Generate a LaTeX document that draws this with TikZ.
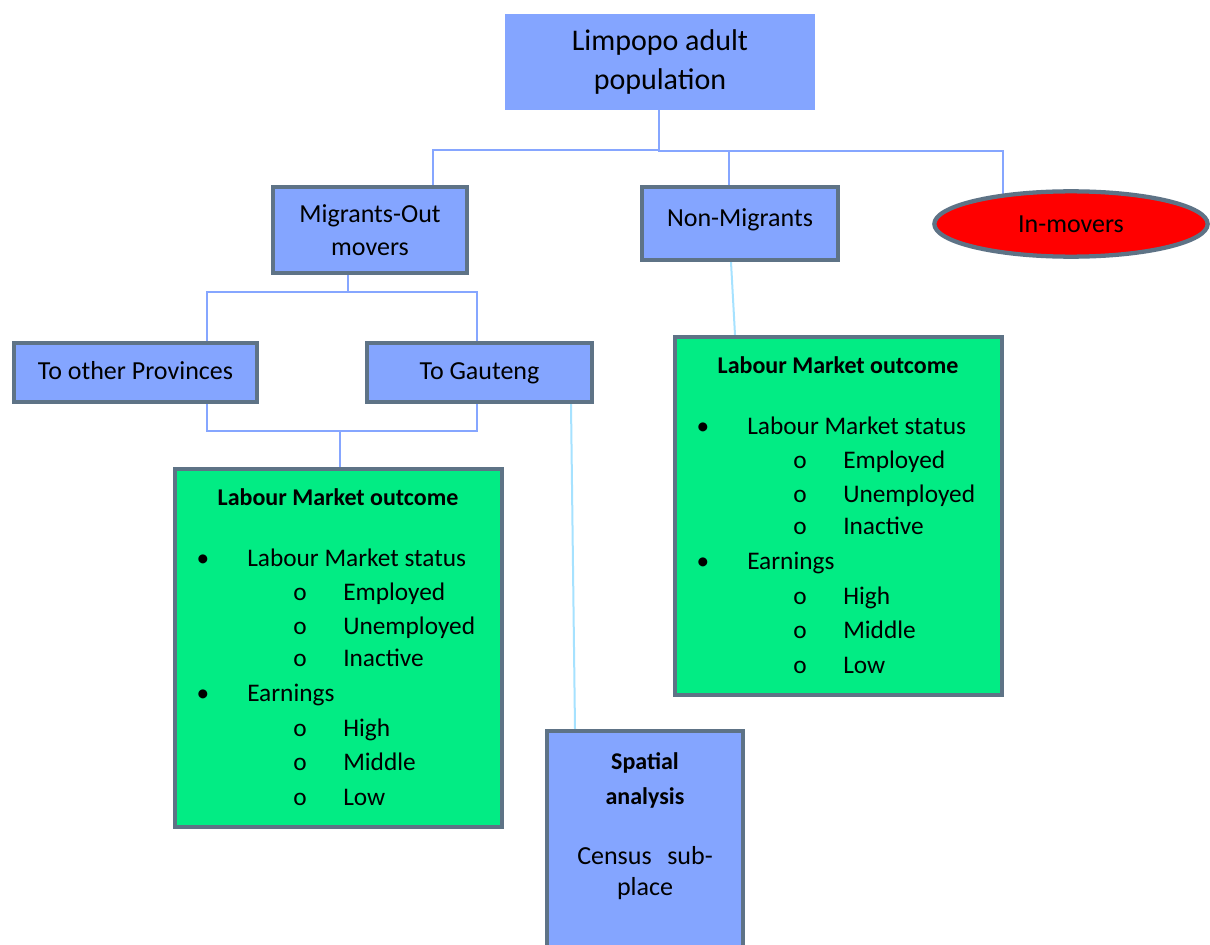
\documentclass[tikz,border=0pt]{standalone}
\usepackage{fontspec}
\setmainfont{Carlito}
\usetikzlibrary{fit,shapes.geometric,backgrounds}
\definecolor{boxblue}{HTML}{84A5FF}
\definecolor{edgegray}{HTML}{5E7386}
\definecolor{boxgreen}{HTML}{02EC84}
\definecolor{connblue}{HTML}{86A6FF}
\definecolor{conncyan}{HTML}{A6E2FF}
\tikzset{
  bluebox/.style={draw=edgegray, line width=3.2pt, fill=boxblue, inner sep=0pt, align=center},
  topbox/.style={fill=boxblue, inner sep=0pt, align=center, font=\fontsize{22.5}{29.25}\selectfont},
  greenbox/.style={draw=edgegray, line width=3.2pt, fill=boxgreen, inner sep=0pt},
  boxtext/.style={font=\fontsize{19.5}{24.75}\selectfont},
  itemtext/.style={inner sep=0pt, anchor=base west, font=\fontsize{19}{22}\selectfont},
  marktext/.style={inner sep=0pt, anchor=base, font=\fontsize{19}{22}\selectfont},
  titletext/.style={inner sep=0pt, anchor=base, font=\fontsize{18}{22}\selectfont\bfseries},
  conn/.style={draw=connblue, line width=1.5pt},
  connlight/.style={draw=conncyan, line width=1.5pt},
}
\newcommand{\labourbox}[1]{%
  \node[greenbox, fit={(175,469) (502,827)}] (#1box) {};
  \node[titletext] (#1title) at (338,505) {Labour Market outcome};
  \node[marktext] (#1b1) at (203,566) {\textbullet};
  \node[itemtext] (#1status) at (247,566) {Labour Market status};
  \node[marktext] (#1o1) at (300,600) {o};
  \node[itemtext] (#1emp) at (343,600) {Employed};
  \node[marktext] (#1o2) at (300,634) {o};
  \node[itemtext] (#1unemp) at (343,634) {Unemployed};
  \node[marktext] (#1o3) at (300,666) {o};
  \node[itemtext] (#1inact) at (343,666) {Inactive};
  \node[marktext] (#1b2) at (203,701) {\textbullet};
  \node[itemtext] (#1earn) at (247,701) {Earnings};
  \node[marktext] (#1o4) at (300,736) {o};
  \node[itemtext] (#1high) at (343,736) {High};
  \node[marktext] (#1o5) at (300,770) {o};
  \node[itemtext] (#1mid) at (343,770) {Middle};
  \node[marktext] (#1o6) at (300,805) {o};
  \node[itemtext] (#1low) at (343,805) {Low};
}
\begin{document}
\begin{tikzpicture}[x=0.75pt,y=-0.75pt]
\clip (0,0) rectangle (1210,945);

% nodes
\node[topbox, minimum width=232.5pt, minimum height=72pt] (top) at (660,62) {Limpopo adult\\population};
\node[bluebox, boxtext, minimum width=145.5pt, minimum height=64.5pt] (mig) at (370,230) {Migrants-Out\\movers};
\node[bluebox, boxtext, minimum width=147pt, minimum height=54.75pt, text depth=9pt] (nonm) at (740,223.5) {Non-Migrants};
\node[ellipse, draw=edgegray, line width=3.2pt, fill=red, minimum width=205pt, minimum height=49pt, inner sep=0pt, font=\fontsize{19.5}{22}\selectfont] (inm) at (1071,224) {In-movers};
\node[bluebox, boxtext, minimum width=182.25pt, minimum height=44.25pt, text height=13pt, text depth=2pt] (other) at (135.5,372.5) {To other Provinces};
\node[bluebox, boxtext, minimum width=168.75pt, minimum height=44.25pt, text height=13pt, text depth=2pt] (gau) at (479.5,372.5) {To Gauteng};

\labourbox{L}
\begin{scope}[shift={(500,-132)}]
\labourbox{R}
\end{scope}

\node[bluebox, fit={(547,731) (743,965)}] (spa) {};
\node[titletext] (spat1) at (645,769) {Spatial};
\node[titletext] (spat2) at (645,804) {analysis};
\node[marktext, font=\fontsize{19.5}{22}\selectfont] (spat3) at (645,864) {Census\hspace{0.6em}sub-};
\node[marktext, font=\fontsize{19.5}{22}\selectfont] (spat4) at (645,895) {place};

% junction coordinates
\coordinate (t0) at (659,150);
\coordinate (t1) at (433,150);
\coordinate (t2) at (729,151);
\coordinate (t3) at (1003,151);
\coordinate (m0) at (348,292);
\coordinate (m1) at (207,292);
\coordinate (m2) at (477,292);
\coordinate (g0) at (340,431);
\coordinate (g1) at (207,431);
\coordinate (g2) at (477,431);
\coordinate (s1) at (571,500);
\coordinate (s2) at (575,800);
\coordinate (n1) at (731,300);
\coordinate (n2) at (735,300);

\begin{scope}[on background layer]
\fill[white] (0,0) rectangle (1210,945);
\draw[conn] (top.south -| t0) -- (t0);
\draw[conn] (mig.north -| t1) -- (t1) -- (t0) -- (t0 |- t2) -- (t3) -- (t3 |- inm.center);
\draw[conn] (t2) -- (t2 |- nonm.north);
\draw[conn] (mig.south -| m0) -- (m0);
\draw[conn] (other.north -| m1) -- (m1) -- (m2) -- (m2 |- gau.north);
\draw[conn] (other.south -| g1) -- (g1) -- (g2) -- (g2 |- gau.south);
\draw[conn] (g0) -- (g0 |- Lbox.north);
\draw[connlight] (gau.south -| s1) -- (spa.north -| s2);
\draw[connlight] (nonm.south -| n1) -- (Rbox.north -| n2);
\end{scope}
\end{tikzpicture}
\end{document}
